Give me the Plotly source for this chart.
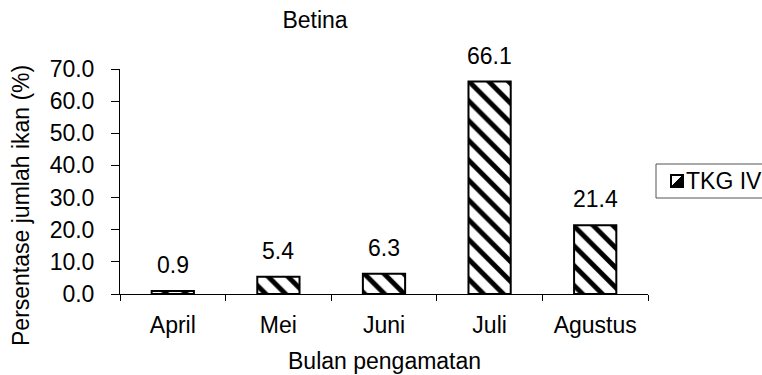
import plotly.graph_objects as go

# Data
months = ["April", "Mei", "Juni", "Juli", "Agustus"]
tkg_iv = [0.9, 5.4, 6.3, 66.1, 21.4]
series_name = "TKG IV"
y_ticks = [0, 10, 20, 30, 40, 50, 60, 70]

W, H = 762, 375
M_L, M_R, M_T, M_B = 120, 114, 69, 81
FONT = "Liberation Sans, Arial, sans-serif"
FS = 23

plot_w = W - M_L - M_R
plot_h = H - M_T - M_B


def px_x(px):
    return (px - M_L) / plot_w


def px_y(py):
    return (H - M_B - py) / plot_h


fig = go.Figure()
fig.add_trace(go.Bar(
    x=months,
    y=tkg_iv,
    name=series_name,
    width=0.4,
    marker=dict(
        color="white",
        line=dict(color="black", width=2),
        pattern=dict(shape="\\", fgcolor="black", bgcolor="white",
                     fgopacity=1, size=14, solidity=0.35,
                     fillmode="replace"),
    ),
    showlegend=False,
))

# value labels above bars
for m, v in zip(months, tkg_iv):
    fig.add_annotation(x=m, y=v, text=f"{v:.1f}", showarrow=False,
                       yanchor="middle", yshift=26,
                       font=dict(family=FONT, size=FS, color="black"))

# legend box
fig.add_shape(type="rect", xref="paper", yref="paper",
              x0=px_x(656), x1=px_x(775), y0=px_y(198), y1=px_y(164),
              line=dict(color="#555555", width=1), fillcolor="white")
fig.add_shape(type="rect", xref="paper", yref="paper",
              x0=px_x(671), x1=px_x(683), y0=px_y(187), y1=px_y(175),
              line=dict(color="black", width=2), fillcolor="white")
fig.add_shape(type="path", xref="paper", yref="paper",
              path=f"M {px_x(683)} {px_y(175)} L {px_x(683)} {px_y(187)} "
                   f"L {px_x(671)} {px_y(187)} Z",
              line=dict(color="black", width=1), fillcolor="black")
fig.add_annotation(xref="paper", yref="paper", x=px_x(684), y=px_y(181),
                   text=series_name, showarrow=False,
                   xanchor="left", yanchor="middle",
                   font=dict(family=FONT, size=FS, color="black"))

# axis titles
fig.add_annotation(xref="paper", yref="paper", x=px_x(384), y=px_y(361),
                   text="Bulan pengamatan", showarrow=False,
                   xanchor="center", yanchor="middle",
                   font=dict(family=FONT, size=FS, color="black"))
fig.add_annotation(xref="paper", yref="paper", x=px_x(21), y=px_y(206),
                   text="Persentase jumlah ikan (%)", showarrow=False,
                   textangle=-90, xanchor="center", yanchor="middle",
                   font=dict(family=FONT, size=FS, color="black"))

fig.update_layout(
    width=W, height=H,
    margin=dict(l=M_L, r=M_R, t=M_T, b=M_B, pad=0),
    paper_bgcolor="white", plot_bgcolor="white",
    font=dict(family=FONT, size=FS, color="black"),
    bargap=0.6,
    title=dict(text="Betina", x=315 / W, xref="container", xanchor="center",
               y=1 - 20 / H, yref="container", yanchor="middle",
               font=dict(family=FONT, size=FS, color="black")),
    xaxis=dict(
        type="category",
        range=[-0.5, 4.5],
        showline=True, linecolor="black", linewidth=1,
        ticks="outside", tickson="boundaries", ticklen=6,
        tickcolor="black", tickwidth=1,
        ticklabelstandoff=10,
        showgrid=False, zeroline=False,
    ),
    yaxis=dict(
        range=[0, 70],
        tickvals=y_ticks, tickformat=".1f",
        showline=True, linecolor="black", linewidth=1,
        ticks="outside", ticklen=8, tickcolor="black", tickwidth=1,
        ticklabelstandoff=12,
        showgrid=False, zeroline=False,
    ),
)

fig.write_html("out.html")
